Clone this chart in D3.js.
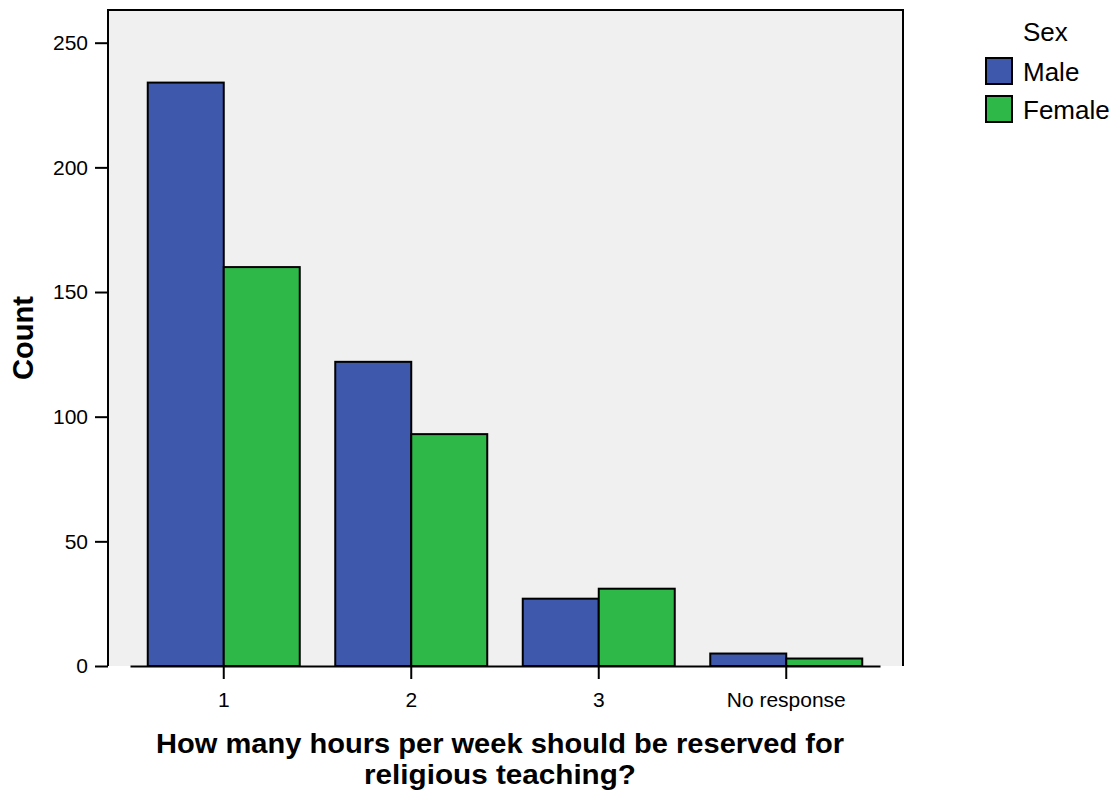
<!DOCTYPE html>
<html><head><meta charset="utf-8">
<script src="https://cdn.jsdelivr.net/npm/d3@7"></script>
<style>body{margin:0;background:#fff}svg{display:block}text{font-family:"Liberation Sans",Arial,sans-serif}</style>
</head><body>
<svg id="c" width="1118" height="791"></svg>
<script>
const categories = ["1", "2", "3", "No response"];
const series = ["Male", "Female"];
const maleValues = [234, 122, 27, 5];
const femaleValues = [160, 93, 31, 3];
const yTicks = [0, 50, 100, 150, 200, 250];
const colors = ["#3e58ac", "#2eb848"];

const svg = d3.select("#c");
const frame = {left: 108, right: 903, top: 10, bottom: 666};
const x = d3.scaleBand().domain(categories).range([130, 880]).paddingInner(0).paddingOuter(0);
const xs = d3.scaleBand().domain(series).range([0, x.bandwidth()]).paddingOuter(0.2336).paddingInner(0);
const y = d3.scaleLinear().domain([0, 250]).range([666, 42.7]);

svg.append("rect").attr("x", frame.left).attr("y", frame.top)
  .attr("width", frame.right - frame.left).attr("height", frame.bottom - frame.top)
  .attr("fill", "#f0f0f0");

const data = categories.map((c, i) => ({cat: c, vals: [maleValues[i], femaleValues[i]]}));
const g = svg.append("g");
data.forEach(d => {
  d.vals.forEach((v, j) => {
    g.append("rect")
      .attr("x", x(d.cat) + xs(series[j]))
      .attr("y", y(v))
      .attr("width", xs.bandwidth())
      .attr("height", y(0) - y(v))
      .attr("fill", colors[j]).attr("stroke", "#000").attr("stroke-width", 2);
  });
});

// frame sides and top
svg.append("path").attr("d", `M${frame.left},${frame.bottom}V${frame.top}H${frame.right}V${frame.bottom}`)
  .attr("fill", "none").attr("stroke", "#000").attr("stroke-width", 2);

// y axis
const yAxis = svg.append("g").attr("transform", `translate(${frame.left},0)`)
  .call(d3.axisLeft(y).tickValues(yTicks).tickSize(13).tickPadding(7));
yAxis.select(".domain").remove();
yAxis.selectAll("line").attr("stroke", "#000").attr("stroke-width", 2);
yAxis.selectAll("text").attr("font-size", 21).attr("fill", "#000").attr("font-family", "Liberation Sans, Arial, sans-serif");

// x axis
const xAxis = svg.append("g").attr("transform", `translate(0,${y(0)})`)
  .call(d3.axisBottom(x).tickSize(13).tickPadding(13).tickSizeOuter(0));
xAxis.select(".domain").attr("stroke", "#000").attr("stroke-width", 2);
xAxis.selectAll("line").attr("stroke", "#000").attr("stroke-width", 2);
xAxis.selectAll("text").attr("font-size", 21).attr("fill", "#000").attr("font-family", "Liberation Sans, Arial, sans-serif");

// axis titles
svg.append("text").attr("transform", "translate(33,338) rotate(-90)")
  .attr("text-anchor", "middle").attr("font-size", 29).attr("font-weight", "bold").text("Count");
svg.append("text").attr("x", 500).attr("y", 753).attr("text-anchor", "middle")
  .attr("font-size", 27).attr("font-weight", "bold")
  .attr("textLength", 688).attr("lengthAdjust", "spacingAndGlyphs")
  .text("How many hours per week should be reserved for");
svg.append("text").attr("x", 500).attr("y", 784).attr("text-anchor", "middle")
  .attr("font-size", 27).attr("font-weight", "bold")
  .attr("textLength", 272).attr("lengthAdjust", "spacingAndGlyphs")
  .text("religious teaching?");

// legend
const leg = svg.append("g");
leg.append("text").attr("x", 1023).attr("y", 41).attr("font-size", 26).text("Sex");
series.forEach((s, i) => {
  leg.append("rect").attr("x", 986).attr("y", 58 + i * 38).attr("width", 26).attr("height", 26)
    .attr("fill", colors[i]).attr("stroke", "#000").attr("stroke-width", 2);
  leg.append("text").attr("x", 1023).attr("y", 81 + i * 38).attr("font-size", 26).text(s);
});
</script>
</body></html>
